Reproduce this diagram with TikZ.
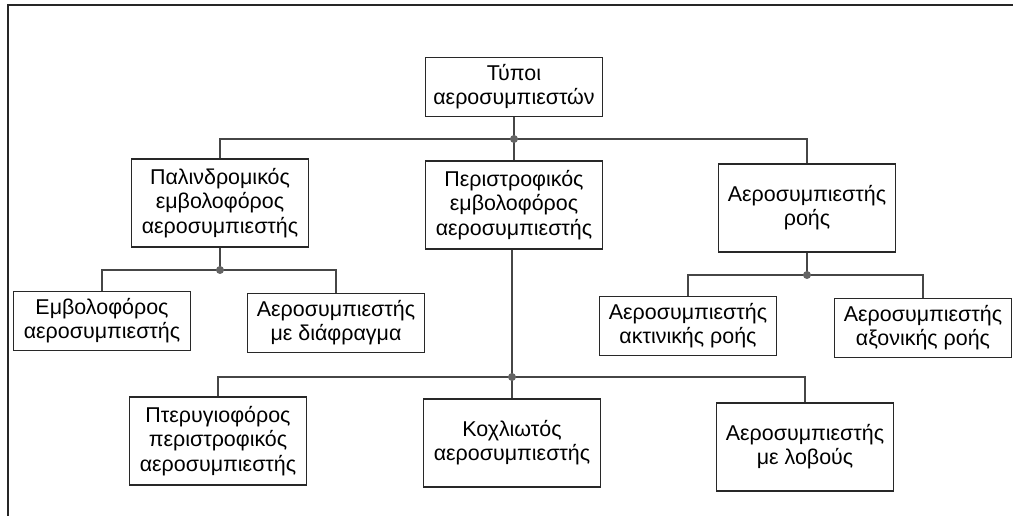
\documentclass[tikz,border=0pt]{standalone}
\usepackage{fontspec}
\setmainfont{Liberation Sans}
\definecolor{boxline}{RGB}{40,40,40}
\definecolor{wire}{RGB}{70,70,70}
\definecolor{knot}{RGB}{100,100,100}

\begin{document}
\begin{tikzpicture}[
    x=0.02cm, y=-0.02cm,
    % node styles
    box/.style = {
      draw=boxline,
      line width=0.7pt,
      minimum width=3.54cm,
      minimum height=1.18cm,
      inner sep=2pt,
      align=center,
      font=\fontsize{12.2}{13.8}\selectfont
    },
    tallbox/.style = {box, minimum height=1.76cm},
    dot/.style = {circle, fill=knot, inner sep=0pt, minimum size=0.16cm},
    % connector style
    wirestyle/.style = {line width=0.6pt, draw=wire}
  ]
  \useasboundingbox (0,0) rectangle (1013,516);

  % --- frame
  \draw[line width=1.2pt, black!85] (8,530) -- (8,5) -- (1020,5);

  % --- Nodes
  \node[box] (types) at (514,87) {Τύποι\\αεροσυμπιεστών};

  \node[tallbox] (recip) at (220,203) {Παλινδρομικός\\εμβολοφόρος\\αεροσυμπιεστής};
  \node[tallbox] (rotary) at (514,205) {Περιστροφικός\\εμβολοφόρος\\αεροσυμπιεστής};
  \node[tallbox] (flow) at (807,208) {Αεροσυμπιεστής\\ροής};

  \node[box] (piston) at (102,321) {Εμβολοφόρος\\αεροσυμπιεστής};
  \node[box] (diaph) at (336,323) {Αεροσυμπιεστής\\με διάφραγμα};

  \node[box] (radial) at (688,326) {Αεροσυμπιεστής\\ακτινικής ροής};
  \node[box] (axial) at (923,328) {Αεροσυμπιεστής\\αξονικής ροής};

  \node[tallbox] (vane) at (218,441) {Πτερυγιοφόρος\\περιστροφικός\\αεροσυμπιεστής};
  \node[tallbox] (screw) at (512,443) {Κοχλιωτός\\αεροσυμπιεστής};
  \node[tallbox] (lobe) at (805,447) {Αεροσυμπιεστής\\με λοβούς};

  % --- junctions
  \coordinate (jtop) at (514,139);
  \coordinate (jrecip) at (220,270);
  \coordinate (jflow) at (807,275);
  \coordinate (jrot) at (512,377);

  % --- Connectors
  \draw[wirestyle] (types) -- (jtop);
  \draw[wirestyle] (recip.north) |- (jtop) -| (flow.north);
  \draw[wirestyle] (jtop) -- (rotary);

  \draw[wirestyle] (recip) -- (jrecip);
  \draw[wirestyle] (piston.north) |- (jrecip) -| (diaph.north);

  \draw[wirestyle] (flow) -- (jflow);
  \draw[wirestyle] (radial.north) |- (jflow) -| (axial.north);

  \draw[wirestyle] (jrot |- rotary.south) -- (jrot);
  \draw[wirestyle] (vane.north) |- (jrot) -| (lobe.north);
  \draw[wirestyle] (jrot) -- (screw);

  \foreach \j in {jtop,jrecip,jflow,jrot}
    \node[dot] at (\j) {};

\end{tikzpicture}
\end{document}
